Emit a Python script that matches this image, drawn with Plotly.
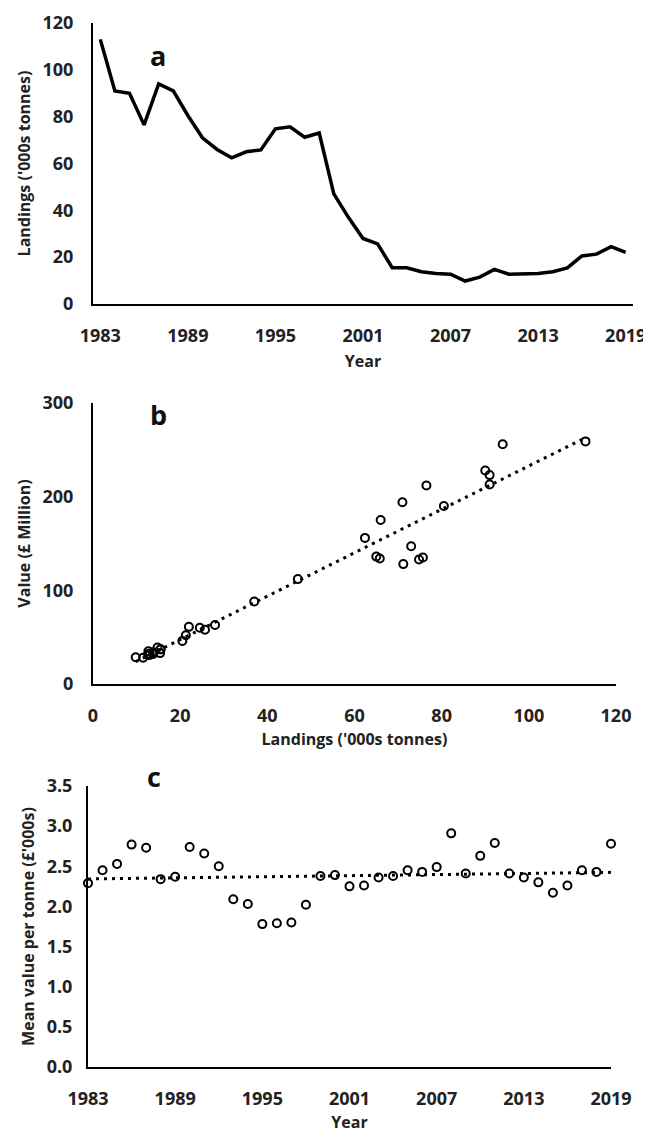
import numpy as np
import plotly.graph_objects as go

years = [1983, 1984, 1985, 1986, 1987, 1988, 1989, 1990, 1991, 1992, 1993, 1994,
         1995, 1996, 1997, 1998, 1999, 2000, 2001, 2002, 2003, 2004, 2005, 2006,
         2007, 2008, 2009, 2010, 2011, 2012, 2013, 2014, 2015, 2016, 2017, 2018, 2019]
landings = [113, 91, 90, 76.5, 94, 91, 80.5, 71, 66, 62.4, 65, 65.8,
            74.8, 75.7, 71.2, 73, 47, 37, 28, 25.7, 15.5, 15.5, 13.8, 13,
            12.7, 9.8, 11.5, 14.8, 12.7, 12.7, 13, 13.8, 15.4, 20.5, 21.3, 24.5, 22]
value_m = [259, 223, 228, 212, 256, 213, 190, 194, 175, 156, 136, 134,
           133, 135, 128, 147, 112, 88, 63, 58, 37, 37, 34, 32,
           32, 28.5, 28, 39, 35, 31, 31, 32, 33, 46, 52, 60, 61]
mean_value = [2.29, 2.45, 2.53, 2.77, 2.73, 2.34, 2.37, 2.74, 2.66, 2.50, 2.09, 2.03,
              1.78, 1.79, 1.80, 2.02, 2.38, 2.39, 2.25, 2.26, 2.36, 2.38, 2.45, 2.43,
              2.49, 2.91, 2.41, 2.63, 2.79, 2.41, 2.36, 2.30, 2.17, 2.26, 2.45, 2.43, 2.78]
year_ticks = [1983, 1989, 1995, 2001, 2007, 2013, 2019]

# page has an 8px body margin, so the figure is drawn at (8, 8)
OFF = 8
W, H = 651 - OFF, 1137 - OFF
FONT = "Open Sans"

def dx(px):
    return (px - OFF) / W

def dy(py):
    return 1 - (py - OFF) / H

# trendlines (linear fits)
sb, ib = np.polyfit(landings, value_m, 1)
bx = [min(landings), max(landings)]
by = [sb * v + ib for v in bx]
sc, ic = np.polyfit(years, mean_value, 1)
cx = [years[0], years[-1]]
cy = [sc * v + ic for v in cx]

fig = go.Figure()
fig.add_trace(go.Scatter(x=years, y=landings, mode="lines",
                         line=dict(color="black", width=3.5),
                         xaxis="x", yaxis="y", showlegend=False))
fig.add_trace(go.Scatter(x=bx, y=by, mode="lines",
                         line=dict(color="black", width=3, dash="3px,5px"),
                         xaxis="x2", yaxis="y2", showlegend=False))
fig.add_trace(go.Scatter(x=landings, y=value_m, mode="markers",
                         marker=dict(symbol="circle-open", size=8, color="black",
                                     line=dict(width=2, color="black")),
                         xaxis="x2", yaxis="y2", showlegend=False, cliponaxis=False))
fig.add_trace(go.Scatter(x=cx, y=cy, mode="lines",
                         line=dict(color="black", width=3, dash="3px,5px"),
                         xaxis="x3", yaxis="y3", showlegend=False))
fig.add_trace(go.Scatter(x=years, y=mean_value, mode="markers",
                         marker=dict(symbol="circle-open", size=8, color="black",
                                     line=dict(width=2, color="black")),
                         xaxis="x3", yaxis="y3", showlegend=False, cliponaxis=False))

tickfont = dict(family=FONT, size=18, color="#222", weight="bold")
titlefont = dict(family=FONT, size=16, color="#222")
common = dict(showgrid=False, zeroline=False, showline=True, linecolor="black",
              linewidth=2, ticks="", tickfont=tickfont, fixedrange=True,
              automargin=False)

layout = dict(
    width=W, height=H, paper_bgcolor="white", plot_bgcolor="white",
    margin=dict(l=0, r=0, t=0, b=0, autoexpand=False), showlegend=False,
    xaxis=dict(domain=[dx(93), dx(633)], anchor="y", range=[1982.5, 2019.5],
               tickvals=year_ticks, ticklabelstandoff=14,
               title=dict(text="<b>Year</b>", font=titlefont, standoff=10), **common),
    yaxis=dict(domain=[dy(304), dy(23)], anchor="x", range=[0, 120], dtick=20,
               ticklabelstandoff=14,
               title=dict(text="<b>Landings ('000s tonnes)</b>", font=titlefont, standoff=8),
               **common),
    xaxis2=dict(domain=[dx(93), dx(616)], anchor="y2", range=[0, 120], dtick=20,
                ticklabelstandoff=14,
                title=dict(text="<b>Landings ('000s tonnes)</b>", font=titlefont, standoff=8),
                **common),
    yaxis2=dict(domain=[dy(684), dy(403)], anchor="x2", range=[0, 300], dtick=100,
                ticklabelstandoff=14,
                title=dict(text="<b>Value (£ Million)</b>", font=titlefont, standoff=8),
                **common),
    xaxis3=dict(domain=[dx(88), dx(611)], anchor="y3", range=[1983, 2019],
                tickvals=year_ticks, ticklabelstandoff=14,
                title=dict(text="<b>Year</b>", font=titlefont, standoff=8), **common),
    yaxis3=dict(domain=[dy(1067), dy(786)], anchor="x3", range=[0, 3.5], dtick=0.5,
                tickformat=".1f", ticklabelstandoff=10,
                title=dict(text="<b>Mean value per tonne (£'000s)</b>", font=titlefont,
                           standoff=8),
                **common),
)
fig.update_layout(**layout)

for letter, x, y in [("a", 148, 35), ("b", 148, 415), ("c", 145, 797)]:
    fig.add_annotation(text=f"<b>{letter}</b>", x=dx(x), y=dy(y), xref="paper",
                       yref="paper", showarrow=False,
                       font=dict(family=FONT, size=27, color="#111"))

fig.write_html("out.html")
